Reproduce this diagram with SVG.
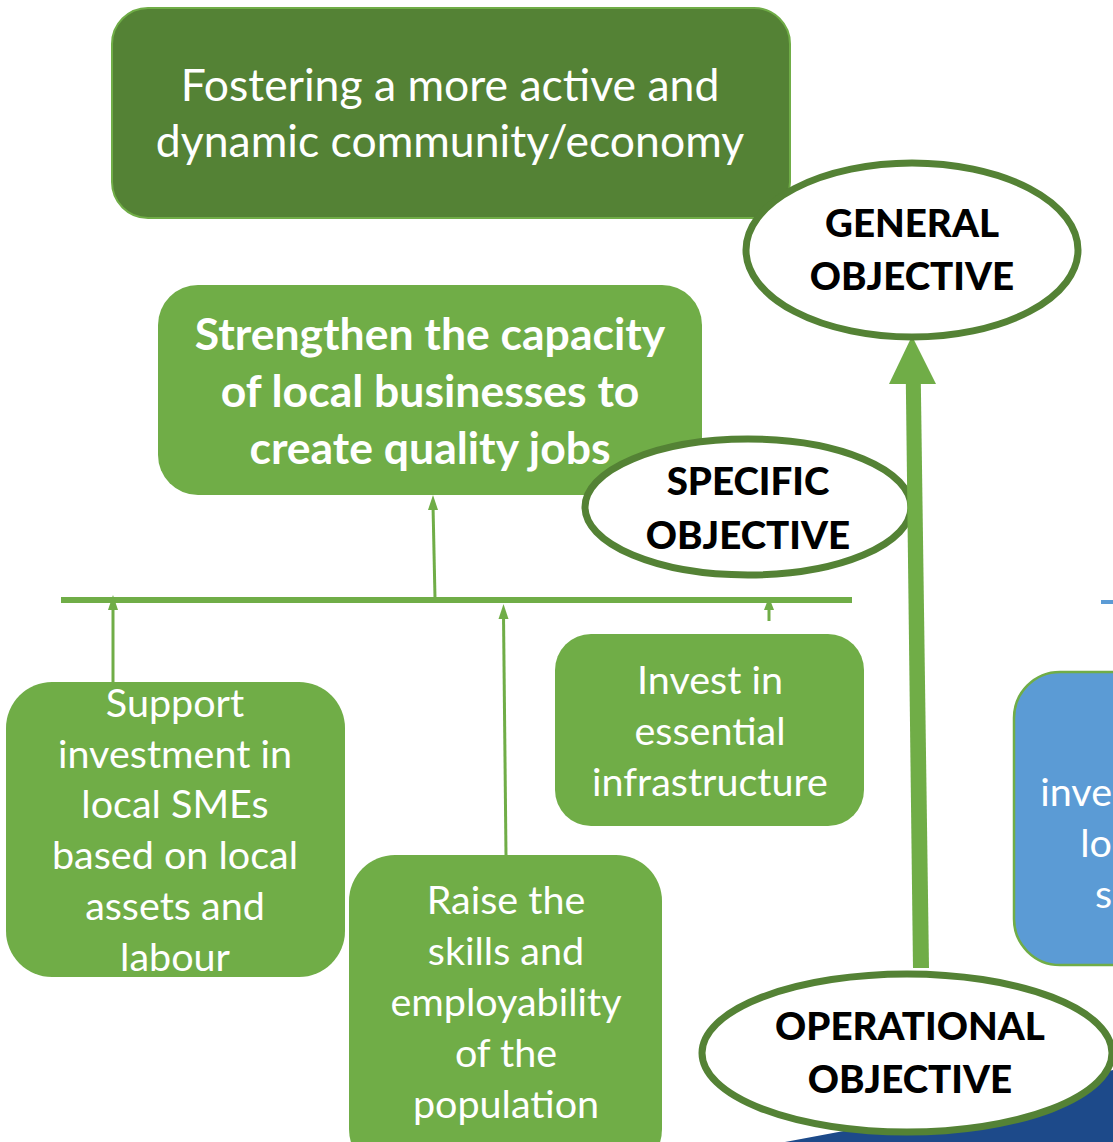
<svg xmlns="http://www.w3.org/2000/svg" width="1113" height="1142" viewBox="0 0 1113 1142">
<style>
.box{fill:#70AD47;}
.dark{fill:#548235;stroke:#70AD47;stroke-width:2;}
.t{font-family:Lato,"Open Sans",sans-serif;fill:#fff;text-anchor:middle;}
.tb{font-family:Lato,"Open Sans",sans-serif;fill:#fff;text-anchor:middle;font-weight:bold;}
.ell{fill:#fff;stroke:#548235;stroke-width:7;}
.et{font-family:Lato,"Open Sans",sans-serif;fill:#000;text-anchor:middle;font-weight:900;font-size:38.5px;}
.con{stroke:#70AD47;fill:none;}
.head{fill:#70AD47;}
</style>
<rect width="1113" height="1142" fill="#fff"/>

<path id="darkblue" d="M785,1142 Q950,1112 1113,1070 L1113,1142 Z" fill="#1D4A8A"/>

<g id="node-general-box">
<rect class="dark" x="112" y="8" width="678" height="210" rx="36"/>
<text class="t" font-size="44.5" x="450" y="101">Fostering a more active and</text>
<text class="t" font-size="44.5" x="450" y="157">dynamic community/economy</text>
</g>

<g id="node-specific-box">
<rect class="box" x="158" y="285" width="544" height="210" rx="40"/>
<text class="tb" font-size="44.5" x="430" y="350">Strengthen the capacity</text>
<text class="tb" font-size="44.5" x="430" y="407">of local businesses to</text>
<text class="tb" font-size="44.5" x="430" y="464">create quality jobs</text>
</g>

<g id="node-support">
<rect class="box" x="6" y="682" width="339" height="295" rx="46"/>
<g class="t" font-size="39.5">
<text x="175" y="717">Support</text>
<text x="175" y="768">investment in</text>
<text x="175" y="818">local SMEs</text>
<text x="175" y="869">based on local</text>
<text x="175" y="920">assets and</text>
<text x="175" y="971">labour</text>
</g>
</g>

<g id="node-raise">
<rect class="box" x="349" y="855" width="313" height="320" rx="46"/>
<g class="t" font-size="39.5">
<text x="506" y="914">Raise the</text>
<text x="506" y="965">skills and</text>
<text x="506" y="1016">employability</text>
<text x="506" y="1067">of the</text>
<text x="506" y="1118">population</text>
</g>
</g>

<g id="node-invest">
<rect class="box" x="555" y="634" width="309" height="192" rx="36"/>
<g class="t" font-size="39.5">
<text x="710" y="694">Invest in</text>
<text x="710" y="745">essential</text>
<text x="710" y="796">infrastructure</text>
</g>
</g>

<g id="node-blue">
<rect x="1014" y="672" width="160" height="293" rx="46" fill="#5B9BD5" stroke="#70AD47" stroke-width="2.5"/>
<g font-family="Lato,'Open Sans',sans-serif" fill="#fff" font-size="39.5" text-anchor="end">
<text x="1112" y="806">inve</text>
<text x="1112" y="857">lo</text>
<text x="1112" y="908">s</text>
</g>
</g>

<g id="connectors">
<line class="con" x1="61" y1="600" x2="852" y2="600" stroke-width="6"/>
<line class="con" x1="435" y1="598" x2="433" y2="505" stroke-width="3"/>
<path class="head" d="M428,510 L438,510 L433,495 Z"/>
<line class="con" x1="113" y1="682" x2="113" y2="606" stroke-width="3"/>
<path class="head" d="M108,610 L118,610 L113,595 Z"/>
<line class="con" x1="506" y1="855" x2="503.5" y2="615" stroke-width="3"/>
<path class="head" d="M498.5,619 L508.5,619 L503.5,604 Z"/>
<line class="con" x1="769" y1="621" x2="769" y2="606" stroke-width="3"/>
<path class="head" d="M764,610 L774,610 L769,597 Z"/>
<line x1="1101" y1="602" x2="1113" y2="602" stroke="#5B9BD5" stroke-width="4"/>
</g>

<g id="node-specific-label">
<ellipse class="ell" cx="748" cy="507" rx="163" ry="68"/>
<text class="et" x="748" y="495">SPECIFIC</text>
<text class="et" x="748" y="549">OBJECTIVE</text>
</g>

<g id="big-arrow">
<path d="M914,383 L929,383 L929,968 L913,968 Z" fill="#70AD47" transform="rotate(-0.8 921 968)"/>
<path d="M889,384 L936,384 L912,336 Z" fill="#70AD47"/>
</g>

<g id="node-general-label">
<ellipse class="ell" cx="912" cy="250" rx="166" ry="87"/>
<text class="et" x="912" y="237">GENERAL</text>
<text class="et" x="912" y="290">OBJECTIVE</text>
</g>

<g id="node-operational-label">
<ellipse class="ell" cx="907" cy="1053" rx="205" ry="79"/>
<text class="et" x="910" y="1040">OPERATIONAL</text>
<text class="et" x="910" y="1093">OBJECTIVE</text>
</g>
</svg>
